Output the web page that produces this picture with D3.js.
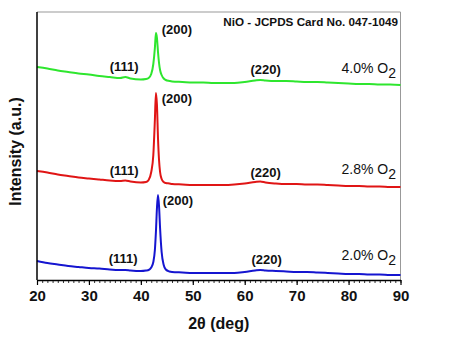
<!DOCTYPE html>
<html><head><meta charset="utf-8">
<script src="https://cdn.jsdelivr.net/npm/d3@7"></script>
<style>body{margin:0;background:#fff}svg{display:block}text{font-family:"Liberation Sans",Arial,sans-serif}</style>
</head><body>
<svg id="c" width="474" height="342"></svg>
<script>
const twoTheta = [20,22,24,26,28,30,32,34,36,37,38,40,41,41.5,42,42.4,42.7,42.9,43.1,43.3,43.5,43.7,44.0,44.4,44.8,45.5,46,48,50,52,54,56,58,60,62,63,64,66,68,70,72,74,76,78,80,82,84,86,88,90];
const green40 = [212,210.5,208.5,207,205.5,204.5,203,202,201,202,200.5,199.5,200,201,205,215,231,246,241,227,216,209,204,200.5,199,198,197.5,197,196.5,196.5,196,196,196,197,198.5,199,198.5,198,198,197.5,197,197,196.5,196,195.5,195,195,194.5,194.5,194];
const red28 = [108,106.5,104.5,103,101.5,100.5,99.5,98.5,98,98.5,97.5,96.5,97,99,107,124,159,186,174,141,119,107,100,97,96,95.5,95,94.5,94,94,94,94,94.5,95.5,97,97.5,96.5,95.5,95,95,94.5,94.5,94,93.5,93,93,92.5,92.5,92,92];
const blue20 = [18,16,14.5,13,12,11,10.5,9.5,9,9,8.5,8,8.5,9,11.5,17,29,47,71,84,73,51,27,14,9.5,7.5,7,6.5,6,6,6,6,6,7,8.5,9,8.5,8,7.5,7,7,6.5,6,5.5,5,5,4.5,4.5,4,4];
const xTicks = [20,30,40,50,60,70,80,90];
const seriesNames = ["4.0% O","2.8% O","2.0% O"];
const seriesColors = ["#2ee62e","#e01515","#1515d0"];
// peak labels: [2theta, intensity] anchor per series
const peakLabels = [
  [{t:"(111)",x:34.0,y:208},{t:"(200)",x:44.0,y:245},{t:"(220)",x:61.1,y:205}],
  [{t:"(111)",x:34.0,y:104},{t:"(200)",x:44.0,y:176},{t:"(220)",x:61.1,y:102}],
  [{t:"(111)",x:33.8,y:16},{t:"(200)",x:44.2,y:74},{t:"(220)",x:61.3,y:15}]
];
const seriesLabelY = [206,105,19];

const L=37,R=400.5,T=12,B=280;
const svg=d3.select("#c");
const x=d3.scaleLinear().domain([20,90]).range([L,R]);
const y=d3.scaleLinear().domain([-1,267]).range([B,T]);
const series=[green40,red28,blue20];

// frame top/right
svg.append("line").attr("x1",L).attr("x2",R).attr("y1",T).attr("y2",T).attr("stroke","#999").attr("stroke-width",1);
svg.append("line").attr("x1",R).attr("x2",R).attr("y1",T).attr("y2",B).attr("stroke","#999").attr("stroke-width",1);

const line=d3.line().x((d,i)=>x(twoTheta[i])).y(d=>y(d)).curve(d3.curveMonotoneX);
series.forEach((s,k)=>{
  svg.append("path").attr("d",line(s)).attr("fill","none").attr("stroke",seriesColors[k]).attr("stroke-width",2);
});

// axes
const minor=d3.range(20,91,1);
const gx=svg.append("g").attr("transform",`translate(0,${B})`);
gx.call(d3.axisBottom(x).tickValues(minor).tickSize(3).tickFormat("")).call(g=>g.select(".domain").remove());
gx.selectAll("line").attr("stroke","#333");
const gx2=svg.append("g").attr("transform",`translate(0,${B})`);
gx2.call(d3.axisBottom(x).tickValues(xTicks).tickSize(5).tickSizeOuter(0).tickPadding(5).tickFormat(d3.format("d")));
gx2.select(".domain").attr("stroke","#000").attr("stroke-width",1.5);
gx2.selectAll("line").attr("stroke","#000").attr("stroke-width",1.2);
gx2.selectAll("text").attr("font-size",15).attr("font-weight","bold").attr("fill","#111").attr("font-family","Liberation Sans, Arial, sans-serif");
svg.append("line").attr("x1",L).attr("x2",L).attr("y1",T).attr("y2",B).attr("stroke","#000").attr("stroke-width",1.5);

// peak labels
peakLabels.forEach((arr,k)=>arr.forEach(p=>{
  svg.append("text").attr("x",x(p.x)).attr("y",y(p.y)).text(p.t).attr("font-size",13).attr("font-weight","bold").attr("fill","#111");
}));
// series labels
seriesNames.forEach((n,k)=>{
  const t=svg.append("text").attr("x",396).attr("y",y(seriesLabelY[k])).attr("text-anchor","end").attr("font-size",14).attr("fill","#111");
  t.append("tspan").text(n);
  t.append("tspan").attr("dy",5).attr("font-size",14).text("2");
});
// card note
svg.append("text").attr("x",398).attr("y",26).attr("text-anchor","end").attr("font-size",11.7).attr("font-weight","bold").attr("fill","#111").text("NiO - JCPDS Card No. 047-1049");
// axis titles
svg.append("text").attr("x",(L+R)/2).attr("y",329).attr("text-anchor","middle").attr("font-size",16).attr("font-weight","bold").attr("fill","#111").text("2θ (deg)");
svg.append("text").attr("transform","translate(21,151.5) rotate(-90)").attr("text-anchor","middle").attr("font-size",16).attr("font-weight","bold").attr("fill","#111").text("Intensity (a.u.)");
</script>
</body></html>
